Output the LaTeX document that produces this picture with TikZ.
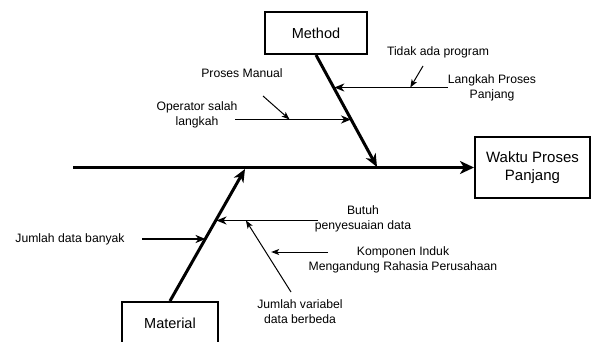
\documentclass[tikz,border=0pt]{standalone}
\usepackage{fontspec}
\setmainfont{Liberation Sans}
\usetikzlibrary{arrows.meta}

\tikzset{
  catbox/.style={draw, line width=2pt, fill=white, inner sep=0pt,
    font=\fontsize{14.5}{18}\selectfont},
  headbox/.style={draw, line width=2pt, fill=white, inner sep=0pt,
    align=center, font=\fontsize{15}{18}\selectfont},
  lbl/.style={inner sep=0pt, align=center, font=\fontsize{12.2}{15}\selectfont},
  spine/.style={line width=3.4pt, -{Stealth[length=14pt, width=13pt, inset=4pt]}},
  bone/.style={line width=3pt, -{Stealth[length=13pt, width=11pt, inset=4pt]}},
  cause/.style={line width=1.8pt, -{Stealth[length=10pt, width=8pt, inset=3pt]}},
  sub/.style={line width=1pt, -{Stealth[length=8pt, width=6pt, inset=2pt]}}
}

\begin{document}
\begin{tikzpicture}[x=1pt, y=-1pt]
\useasboundingbox (0,0) rectangle (591,342);
\clip (0,0) rectangle (591,342);

% effect box and main spine
\node[headbox, minimum width=115pt, minimum height=61pt] (effect) at (532.5,167.5)
  {Waktu Proses\\Panjang};
\coordinate (tail) at (73,167.5);
\draw[spine] (tail) -- (effect.west);

% category boxes
\node[catbox, minimum width=102pt, minimum height=42pt] (method) at (316,33) {Method};
\node[catbox, minimum width=96pt, minimum height=42pt] (material) at (170,323) {Material};

% category bones
\coordinate (mtip) at (377,167);
\coordinate (atip) at (245,169);
\draw[bone] (method.south) -- (mtip)
  coordinate[pos=0.30] (m1) coordinate[pos=0.575] (m2);
\draw[bone] (material.north) -- (atip)
  coordinate[pos=0.474] (a1) coordinate[pos=0.62] (a2);

% Method causes
\node[lbl] (langkah) at (492,87.5) {Langkah Proses\\Panjang};
\draw[cause] (langkah.west) -- (langkah.west -| m1)
  coordinate[pos=0.33] (lk);
\node[lbl] (tidak) at (438,52) {Tidak ada program};
\coordinate (tidakstart) at (423,66);
\draw[sub] (tidakstart) -- (lk);

\node[lbl] (operator) at (197,114.5) {Operator salah\\langkah};
\coordinate (opstart) at (235,119.5);
\draw[cause] (opstart) -- (opstart -| m2) coordinate[pos=0.47] (op);
\node[lbl] (manual) at (242,73) {Proses Manual};
\coordinate (manualstart) at (263,96);
\draw[sub] (manualstart) -- (op);

% Material causes
\node[lbl] (banyak) at (70,239) {Jumlah data banyak};
\coordinate (bystart) at (142,239);
\draw[cause] (bystart) -- (bystart -| a1);

\node[lbl] (butuh) at (363,218.5) {Butuh\\penyesuaian data};
\coordinate (btstart) at (318,220.5);
\draw[cause] (btstart) -- (btstart -| a2) coordinate[pos=0.71] (bt);

\node[lbl] (variabel) at (300,311.5) {Jumlah variabel\\data berbeda};
\coordinate (vrstart) at (291,292);
\draw[sub] (vrstart) -- (bt) coordinate[pos=0.44] (vr);

\node[lbl] (komponen) at (403,259.5) {Komponen Induk\\Mengandung Rahasia Perusahaan};
\coordinate (kpstart) at (328,252);
\draw[sub] (kpstart) -- (kpstart -| vr);
\end{tikzpicture}
\end{document}
